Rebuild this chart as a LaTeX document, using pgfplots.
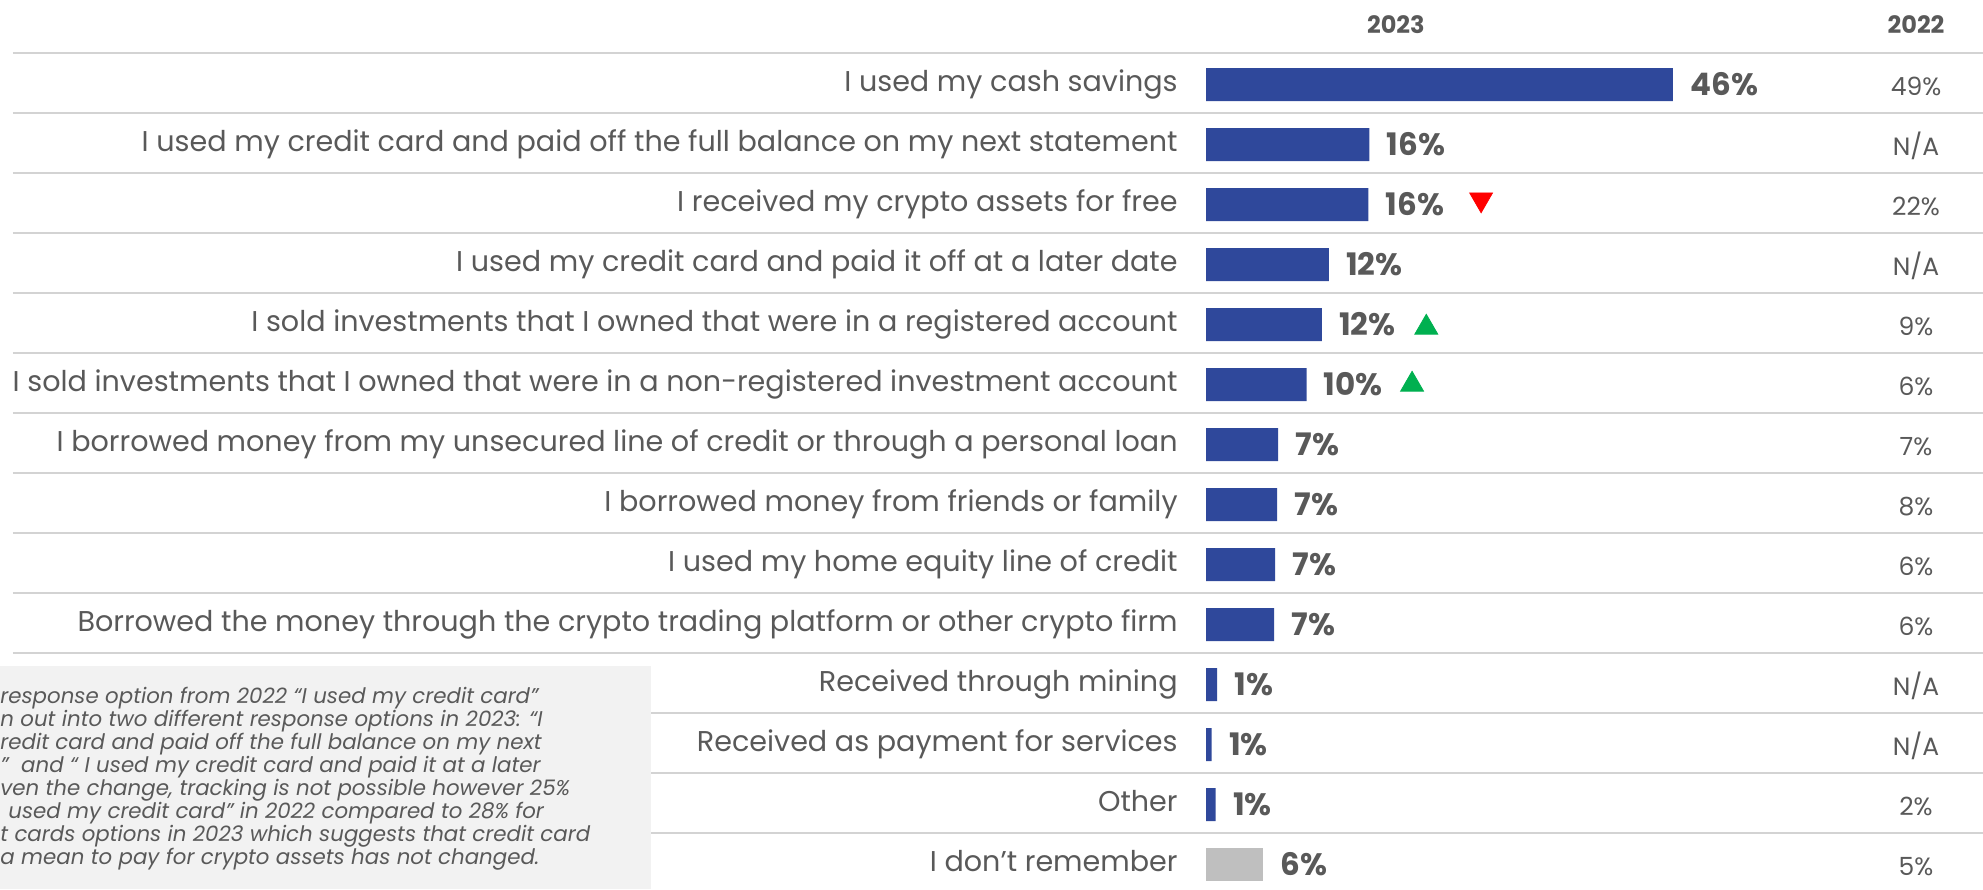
\documentclass[border=0pt]{standalone}
\usepackage{pgfplots}
\pgfplotsset{compat=1.18}
\usepackage{fontspec}
\setmainfont{Poppins}
\definecolor{txt}{HTML}{595959}
\definecolor{barblue}{HTML}{2F489B}
\definecolor{bargray}{HTML}{BFBFBF}
\definecolor{sepc}{HTML}{D3D3D3}
\definecolor{boxgray}{HTML}{F2F2F2}
\definecolor{upgreen}{HTML}{00B050}
\definecolor{downred}{HTML}{FF0000}
\begin{document}
\begin{tikzpicture}
\begin{axis}[name=ax, at={(0,0)}, anchor=south west, scale only axis,
  width=991.5pt, height=444.5pt,
  xmin=-118.82, xmax=76.55, ymin=0, ymax=889, y dir=reverse,
  axis lines=none, ticks=none, clip=false]

\fill[boxgray] (axis cs:-118.82,666) rectangle (axis cs:-54.68,889);

% separators
\addplot[sepc, line width=1pt, forget plot] coordinates {(-117.54,53) (76.55,53)};
\addplot[sepc, line width=1pt, forget plot] coordinates {(-117.54,113) (76.55,113)};
\addplot[sepc, line width=1pt, forget plot] coordinates {(-117.54,173) (76.55,173)};
\addplot[sepc, line width=1pt, forget plot] coordinates {(-117.54,233) (76.55,233)};
\addplot[sepc, line width=1pt, forget plot] coordinates {(-117.54,293) (76.55,293)};
\addplot[sepc, line width=1pt, forget plot] coordinates {(-117.54,353) (76.55,353)};
\addplot[sepc, line width=1pt, forget plot] coordinates {(-117.54,413) (76.55,413)};
\addplot[sepc, line width=1pt, forget plot] coordinates {(-117.54,473) (76.55,473)};
\addplot[sepc, line width=1pt, forget plot] coordinates {(-117.54,533) (76.55,533)};
\addplot[sepc, line width=1pt, forget plot] coordinates {(-117.54,593) (76.55,593)};
\addplot[sepc, line width=1pt, forget plot] coordinates {(-117.54,653) (76.55,653)};
\addplot[sepc, line width=1pt, forget plot] coordinates {(-54.68,713) (76.55,713)};
\addplot[sepc, line width=1pt, forget plot] coordinates {(-54.68,773) (76.55,773)};
\addplot[sepc, line width=1pt, forget plot] coordinates {(-54.68,833) (76.55,833)};

% 2023 bars
\addplot[xbar, bar width=16.5pt, bar shift=0pt, fill=barblue, draw=none,
  nodes near coords, point meta=explicit symbolic,
  nodes near coords style={anchor=west, inner sep=0pt, xshift=8.5pt,
    font=\fontsize{15.5}{16}\selectfont\bfseries, text=txt}]
  coordinates {
  (46.0,84.5) [46\%]
  (16.1,144.5) [16\%]
  (16.0,204.5) [16\%]
  (12.1,264.5) [12\%]
  (11.4,324.5) [12\%]
  (9.9,384.5) [10\%]
  (7.1,444.5) [7\%]
  (7.0,504.5) [7\%]
  (6.8,564.5) [7\%]
  (6.7,624.5) [7\%]
  (1.1,684.5) [1\%]
  (0.55,744.5) [1\%]
  (0.95,804.5) [1\%]
  };
\addplot[xbar, bar width=16.5pt, bar shift=0pt, fill=bargray, draw=none,
  nodes near coords, point meta=explicit symbolic,
  nodes near coords style={anchor=west, inner sep=0pt, xshift=8.5pt,
    font=\fontsize{15.5}{16}\selectfont\bfseries, text=txt}]
  coordinates {(5.6,864.5) [6\%]};

% category labels
\addplot[draw=none, mark=none, nodes near coords, point meta=explicit symbolic,
  nodes near coords style={anchor=base east, inner sep=0pt,
    font=\fontsize{14.3}{15}\selectfont, text=txt}]
  coordinates {
  (-2.76,91.5) [I used my cash savings]
  (-2.76,151.5) [I used my credit card and paid off the full balance on my next statement]
  (-2.76,211.5) [I received my crypto assets for free]
  (-2.76,271.5) [I used my credit card and paid it off at a later date]
  (-2.76,331.5) [I sold investments that I owned that were in a registered account]
  (-2.76,391.5) [I sold investments that I owned that were in a non-registered investment account]
  (-2.76,451.5) [I borrowed money from my unsecured line of credit or through a personal loan]
  (-2.76,511.5) [I borrowed money from friends or family]
  (-2.76,571.5) [I used my home equity line of credit]
  (-2.76,631.5) [Borrowed the money through the crypto trading platform or other crypto firm]
  (-2.76,691.5) [Received through mining]
  (-2.76,751.5) [Received as payment for services]
  (-2.76,811.5) [Other]
  (-2.76,871.5) [I don't remember]
  };

% 2022 column
\addplot[draw=none, mark=none, nodes near coords, point meta=explicit symbolic,
  nodes near coords style={anchor=base, inner sep=0pt,
    font=\fontsize{12.5}{13}\selectfont, text=txt}]
  coordinates {
  (69.95,95) [49\%]
  (69.95,155) [N/A]
  (69.95,215) [22\%]
  (69.95,275) [N/A]
  (69.95,335) [9\%]
  (69.95,395) [6\%]
  (69.95,455) [7\%]
  (69.95,515) [8\%]
  (69.95,575) [6\%]
  (69.95,635) [6\%]
  (69.95,695) [N/A]
  (69.95,755) [N/A]
  (69.95,815) [2\%]
  (69.95,875) [5\%]
  };

% change markers
\addplot[only marks, mark=triangle*, mark size=6.6pt, color=upgreen]
  coordinates {(21.7,327.5) (20.3,384.5)};
\addplot[only marks, mark=triangle*, mark size=6.6pt, color=downred, mark options={rotate=180}]
  coordinates {(27.1,199.5)};

% headers
\node[anchor=base, inner sep=0pt, font=\bfseries\fontsize{12}{12}\selectfont, text=txt] at (axis cs:18.7,33) {2023};
\node[anchor=base, inner sep=0pt, font=\bfseries\fontsize{12}{12}\selectfont, text=txt] at (axis cs:69.95,33) {2022};

% footnote
\begin{scope}[every node/.style={anchor=base west, inner sep=0pt, font=\itshape\fontsize{10.67}{11.5}\selectfont, text=txt}]
\node at (axis cs:-118.82,703) {response option from 2022 “I used my credit card”};
\node at (axis cs:-118.82,726) {n out into two different response options in 2023: “I};
\node at (axis cs:-118.82,749) {redit card and paid off the full balance on my next};
\node at (axis cs:-118.82,772) {”\ \ and “ I used my credit card and paid it at a later};
\node at (axis cs:-118.82,795) {ven the change, tracking is not possible however 25\%};
\node at (axis cs:-118.82,818) {\hspace{4pt}used my credit card” in 2022 compared to 28\% for};
\node at (axis cs:-118.82,841) {t cards options in 2023 which suggests that credit card};
\node at (axis cs:-118.82,864) {a mean to pay for crypto assets has not changed.};
\end{scope}
\end{axis}
\pgfresetboundingbox
\useasboundingbox (ax.south west) rectangle (ax.north east);
\end{tikzpicture}
\end{document}
